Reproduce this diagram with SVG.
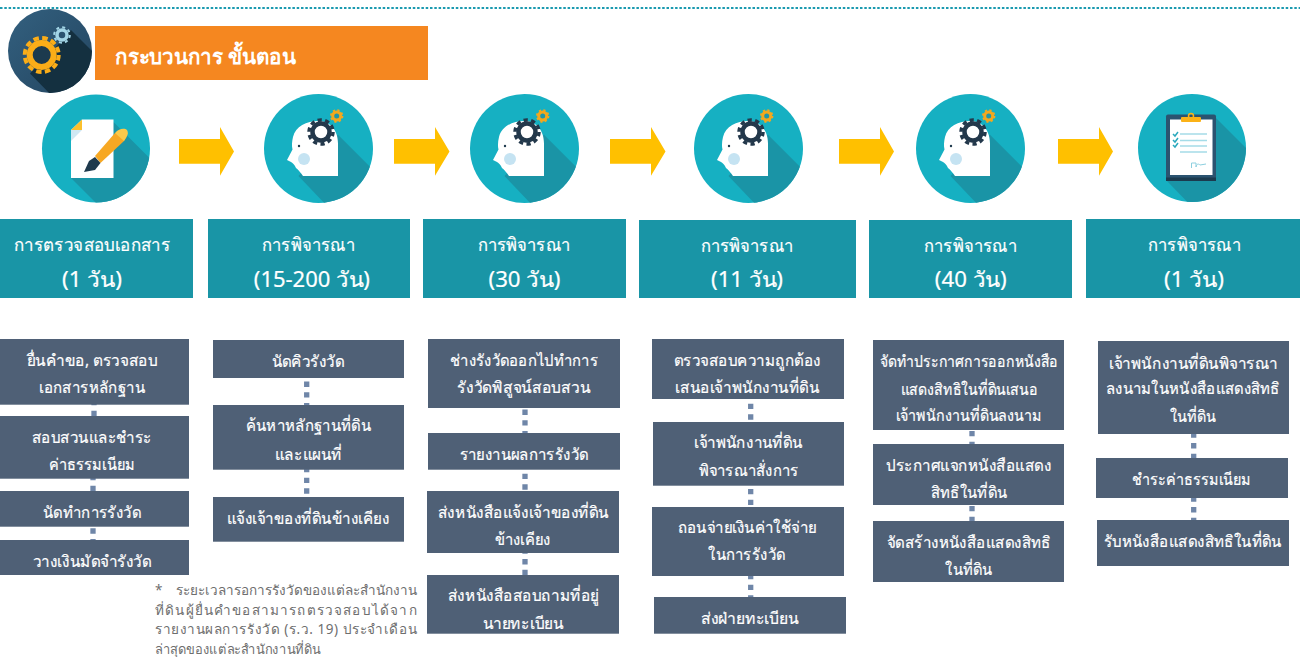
<svg xmlns="http://www.w3.org/2000/svg" xmlns:xlink="http://www.w3.org/1999/xlink" width="1300" height="657" viewBox="0 0 1300 657">
<style>
text{font-family:"Noto Sans","DejaVu Sans",sans-serif}
.hd{fill:#1995a6}
.bx{fill:#4f6076}
.t{fill:#fff;stroke:#fff;stroke-width:.2px;font-size:16px;text-anchor:middle}
.h1{fill:#fff;stroke:#fff;stroke-width:.2px;font-size:18px;text-anchor:middle}
.h2{fill:#fff;stroke:#fff;stroke-width:.2px;font-size:21px;text-anchor:middle}
.n{fill:#6e6e6e;font-size:13.500px}
.c{stroke:#6f86a8;stroke-width:5.300;stroke-dasharray:5.330 5.330;fill:none}
.ar{fill:#ffc000}
.disc{fill:#16b0c2}
.sh{fill:#1a94a6}
</style>
<defs>
<clipPath id="cc"><circle r="54.500"/></clipPath>
<clipPath id="c0"><circle cx="50" cy="51" r="42"/></clipPath>
<clipPath id="c1"><circle cx="96" cy="148.500" r="54"/></clipPath>
<clipPath id="c6"><circle cx="1192" cy="148" r="54"/></clipPath>
<linearGradient id="gd" x1="0" y1="0" x2="1" y2="1"><stop offset="0" stop-color="#33607f"/><stop offset="1" stop-color="#234560"/></linearGradient>
<g id="head">
<circle class="disc" r="54.500"/>
<path class="sh" clip-path="url(#cc)" d="M19.500,-13.800L70,36.700V80H30L-20,27.500Z"/>
<path fill="#fff" d="M-15.500,27.500C-18,24 -20,21.500 -22.500,19.500C-24,16 -25.500,15 -27.500,13.500L-31.500,11.500L-26,1C-27,-3 -26.500,-7 -25.500,-11.500C-23,-22 -12,-27.500 0,-27.500C10,-27.500 19.500,-20 19.500,-5V27.500Z"/>
<circle fill="#c5e3f2" cx="-14.500" cy="10.500" r="6"/>
<circle fill="#1f3a4d" cx="-19.500" cy="-2.500" r="1.200"/>
<circle cx="2.500" cy="-16.500" r="8.500" fill="#fff" stroke="#23384b" stroke-width="4.500"/>
<circle cx="2.500" cy="-16.500" r="12" fill="none" stroke="#23384b" stroke-width="3.500" stroke-dasharray="4.200 3.340"/>
<circle cx="18.200" cy="-32.500" r="4" fill="#1f97a9" stroke="#f4a81d" stroke-width="3"/>
<circle cx="18.200" cy="-32.500" r="5.800" fill="none" stroke="#f4a81d" stroke-width="1.800" stroke-dasharray="2.200 2.350"/>
</g>
</defs>

<line x1="0" y1="8" x2="1300" y2="8" stroke="#1b9ab0" stroke-width="2" stroke-dasharray="2.500 1.800"/>

<g id="title-icon">
<circle cx="50" cy="51" r="42" fill="url(#gd)"/>
<path clip-path="url(#c0)" fill="#143040" d="M71,30L100,59V100H56L30,73.500L55,48Z"/>
<circle cx="41.700" cy="55" r="12" fill="#1c3a4e" stroke="#fbad18" stroke-width="6"/>
<circle cx="41.700" cy="55" r="17" fill="none" stroke="#fbad18" stroke-width="4" stroke-dasharray="5.500 3.400"/>
<circle cx="62" cy="35" r="5" fill="#2b5370" stroke="#a3d5e6" stroke-width="3.500"/>
<circle cx="62" cy="35" r="7.800" fill="none" stroke="#a3d5e6" stroke-width="2" stroke-dasharray="3 3.120"/>
</g>
<g id="title">
<rect x="95" y="26" width="333" height="54" fill="#f58720"/>
<text x="115" y="64" fill="#fff" font-size="21" font-weight="700" textLength="181" lengthAdjust="spacingAndGlyphs">กระบวนการ ขั้นตอน</text>
</g>

<g id="icon-1">
<circle class="disc" cx="96" cy="148.500" r="54"/>
<path class="sh" clip-path="url(#c1)" d="M113.500,122L160,168.500V215H108L71,178Z"/>
<path fill="#fff" d="M82,119.500H113.500V178H71V130Z"/>
<path fill="#fbc02d" d="M82,119.500V130H71Z"/>
<path fill="#cfe8f3" d="M71,130H82L71,141Z"/>
<path fill="#f7a823" d="M95,156L115,133L127.700,133L124,141L100.500,163Z"/>
<path fill="#fbc94a" d="M115,133C119,128 125,128 127,130C129,133 127,137 124,141Z"/>
<path fill="#1f3a4d" d="M95,157L100.500,163L95,170L84,172L89,161Z"/>
</g>
<g id="icon-2"><use xlink:href="#head" href="#head" x="318.500" y="148.500"/></g>
<g id="icon-3"><use xlink:href="#head" href="#head" x="524.500" y="148.500"/></g>
<g id="icon-4"><use xlink:href="#head" href="#head" x="748.500" y="148.500"/></g>
<g id="icon-5"><use xlink:href="#head" href="#head" x="970.500" y="148.500"/></g>
<g id="icon-6">
<circle class="disc" cx="1192" cy="148" r="54"/>
<path class="sh" clip-path="url(#c6)" d="M1216,118L1260,162V215H1200L1166,180Z"/>
<rect x="1166" y="114.500" width="50" height="66.500" rx="2" fill="#2b5370"/>
<rect x="1166" y="177.500" width="50" height="3.500" fill="#1c3a4e"/>
<rect x="1170" y="119.500" width="42.500" height="55.500" fill="#fff"/>
<rect x="1181" y="117" width="20" height="5" rx="1" fill="#fbb217"/>
<circle cx="1191" cy="116" r="2.500" fill="none" stroke="#fbb217" stroke-width="1.500"/>
<path stroke="#a5dce8" stroke-width="1.500" fill="none" d="M1180,134H1207M1180,140.500H1207M1180,146H1207M1180,152H1207"/>
<path stroke="#2aa9bd" stroke-width="1.500" fill="none" d="M1173,134L1175,136L1178,132M1173,140L1175,142L1178,138M1173,145L1175,147L1178,143"/>
<path stroke="#8ccfdf" stroke-width="1" fill="none" d="M1191.500,168V163H1196V167C1197,163 1199,164 1200,165L1206,164"/>
</g>

<g id="connectors">
<path class="ar" d="M179,139H220V127L234,151.500L220,175.700V163.700H179Z"/>
<path class="ar" d="M394,139H435V127L449.500,151.500L435,175.700V163.700H394Z"/>
<path class="ar" d="M610,139H651V127L665.500,151.500L651,175.700V163.700H610Z"/>
<path class="ar" d="M839,139H880V127L894,151.500L880,175.700V163.700H839Z"/>
<path class="ar" d="M1058,139H1099V127L1113,151.500L1099,175.700V163.700H1058Z"/>
<path class="c" d="M94,400V416"/>
<path class="c" d="M93,475V491"/>
<path class="c" d="M93,528.300V545"/>
<path class="c" d="M306.700,381.600V405"/>
<path class="c" d="M306.700,467V497"/>
<path class="c" d="M525,409.600V433"/>
<path class="c" d="M525,473.700V491"/>
<path class="c" d="M525,548.400V575"/>
<path class="c" d="M750.700,403.700V422"/>
<path class="c" d="M750.700,489V507"/>
<path class="c" d="M750.700,574V597"/>
<path class="c" d="M972,431V444"/>
<path class="c" d="M972,506V521"/>
<path class="c" d="M1193.700,432.400V458"/>
<path class="c" d="M1193.700,496.400V520"/>
</g>

<g id="head-1"><rect class="hd" x="0" y="219" width="193" height="79"/><text class="h1" x="92" y="251" textLength="156" lengthAdjust="spacingAndGlyphs">การตรวจสอบเอกสาร</text><text class="h2" x="92" y="287" textLength="60" lengthAdjust="spacingAndGlyphs">(1 วัน)</text></g>
<g id="head-2"><rect class="hd" x="208" y="219" width="202" height="79"/><text class="h1" x="308.500" y="251" textLength="93" lengthAdjust="spacingAndGlyphs">การพิจารณา</text><text class="h2" x="311.800" y="287" textLength="116" lengthAdjust="spacingAndGlyphs">(15-200 วัน)</text></g>
<g id="head-3"><rect class="hd" x="423" y="219" width="203" height="79"/><text class="h1" x="524" y="251" textLength="93" lengthAdjust="spacingAndGlyphs">การพิจารณา</text><text class="h2" x="524.500" y="287" textLength="72" lengthAdjust="spacingAndGlyphs">(30 วัน)</text></g>
<g id="head-4"><rect class="hd" x="639" y="220" width="217" height="78"/><text class="h1" x="747" y="252" textLength="93" lengthAdjust="spacingAndGlyphs">การพิจารณา</text><text class="h2" x="747" y="287" textLength="72" lengthAdjust="spacingAndGlyphs">(11 วัน)</text></g>
<g id="head-5"><rect class="hd" x="869" y="220" width="203" height="78"/><text class="h1" x="970.600" y="252" textLength="93" lengthAdjust="spacingAndGlyphs">การพิจารณา</text><text class="h2" x="970.800" y="287" textLength="72" lengthAdjust="spacingAndGlyphs">(40 วัน)</text></g>
<g id="head-6"><rect class="hd" x="1086" y="219" width="214" height="79"/><text class="h1" x="1194.500" y="251" textLength="93" lengthAdjust="spacingAndGlyphs">การพิจารณา</text><text class="h2" x="1194" y="287" textLength="60" lengthAdjust="spacingAndGlyphs">(1 วัน)</text></g>

<g id="s1-1"><rect class="bx" x="0" y="339" width="189" height="65.700"/><text class="t" x="92" y="366" textLength="131" lengthAdjust="spacingAndGlyphs">ยื่นคำขอ, ตรวจสอบ</text><text class="t" x="92" y="393" textLength="106" lengthAdjust="spacingAndGlyphs">เอกสารหลักฐาน</text></g>
<g id="s1-2"><rect class="bx" x="0" y="416" width="189" height="62.700"/><text class="t" x="92" y="443" textLength="120" lengthAdjust="spacingAndGlyphs">สอบสวนและชำระ</text><text class="t" x="92" y="470" textLength="86" lengthAdjust="spacingAndGlyphs">ค่าธรรมเนียม</text></g>
<g id="s1-3"><rect class="bx" x="0" y="491" width="189" height="35.700"/><text class="t" x="92" y="518" textLength="98" lengthAdjust="spacingAndGlyphs">นัดทำการรังวัด</text></g>
<g id="s1-4"><rect class="bx" x="0" y="540" width="189" height="35"/><text class="t" x="92" y="567" textLength="119" lengthAdjust="spacingAndGlyphs">วางเงินมัดจำรังวัด</text></g>

<g id="s2-1"><rect class="bx" x="213" y="340" width="191" height="38"/><text class="t" x="308" y="367" textLength="73" lengthAdjust="spacingAndGlyphs">นัดคิวรังวัด</text></g>
<g id="s2-2"><rect class="bx" x="213" y="405" width="191" height="64.700"/><text class="t" x="308.300" y="431" textLength="125" lengthAdjust="spacingAndGlyphs">ค้นหาหลักฐานที่ดิน</text><text class="t" x="308.300" y="460" textLength="67" lengthAdjust="spacingAndGlyphs">และแผนที่</text></g>
<g id="s2-3"><rect class="bx" x="213" y="497" width="191" height="44.700"/><text class="t" x="308" y="524" textLength="163" lengthAdjust="spacingAndGlyphs">แจ้งเจ้าของที่ดินข้างเคียง</text></g>

<g id="s3-1"><rect class="bx" x="428" y="339" width="192" height="69"/><text class="t" x="524" y="366" textLength="148" lengthAdjust="spacingAndGlyphs">ช่างรังวัดออกไปทำการ</text><text class="t" x="523.700" y="393" textLength="133" lengthAdjust="spacingAndGlyphs">รังวัดพิสูจน์สอบสวน</text></g>
<g id="s3-2"><rect class="bx" x="428" y="433" width="192" height="36.700"/><text class="t" x="524" y="460" textLength="129" lengthAdjust="spacingAndGlyphs">รายงานผลการรังวัด</text></g>
<g id="s3-3"><rect class="bx" x="427" y="491" width="192" height="62"/><text class="t" x="523.300" y="518" textLength="171" lengthAdjust="spacingAndGlyphs">ส่งหนังสือแจ้งเจ้าของที่ดิน</text><text class="t" x="522.700" y="545" textLength="56" lengthAdjust="spacingAndGlyphs">ข้างเคียง</text></g>
<g id="s3-4"><rect class="bx" x="427" y="575" width="192" height="58.700"/><text class="t" x="523.300" y="601" textLength="151" lengthAdjust="spacingAndGlyphs">ส่งหนังสือสอบถามที่อยู่</text><text class="t" x="523" y="629" textLength="81" lengthAdjust="spacingAndGlyphs">นายทะเบียน</text></g>

<g id="s4-1"><rect class="bx" x="652" y="339" width="192" height="60"/><text class="t" x="747.300" y="366" textLength="147" lengthAdjust="spacingAndGlyphs">ตรวจสอบความถูกต้อง</text><text class="t" x="747.300" y="393" textLength="144" lengthAdjust="spacingAndGlyphs">เสนอเจ้าพนักงานที่ดิน</text></g>
<g id="s4-2"><rect class="bx" x="653" y="422" width="191" height="63.700"/><text class="t" x="748.300" y="448" textLength="109" lengthAdjust="spacingAndGlyphs">เจ้าพนักงานที่ดิน</text><text class="t" x="748.500" y="476" textLength="100" lengthAdjust="spacingAndGlyphs">พิจารณาสั่งการ</text></g>
<g id="s4-3"><rect class="bx" x="652" y="507" width="192" height="69"/><text class="t" x="747" y="533" textLength="139" lengthAdjust="spacingAndGlyphs">ถอนจ่ายเงินค่าใช้จ่าย</text><text class="t" x="746.700" y="560" textLength="77" lengthAdjust="spacingAndGlyphs">ในการรังวัด</text></g>
<g id="s4-4"><rect class="bx" x="654" y="597" width="192" height="36.700"/><text class="t" x="749.800" y="624" textLength="98" lengthAdjust="spacingAndGlyphs">ส่งฝ่ายทะเบียน</text></g>

<g id="s5-1"><rect class="bx" x="873" y="340" width="191" height="90"/><text class="t" x="969.200" y="367" textLength="178" lengthAdjust="spacingAndGlyphs">จัดทำประกาศการออกหนังสือ</text><text class="t" x="969.200" y="395" textLength="137" lengthAdjust="spacingAndGlyphs">แสดงสิทธิในที่ดินเสนอ</text><text class="t" x="969" y="421" textLength="146" lengthAdjust="spacingAndGlyphs">เจ้าพนักงานที่ดินลงนาม</text></g>
<g id="s5-2"><rect class="bx" x="873" y="444" width="191" height="61"/><text class="t" x="968.700" y="471" textLength="165" lengthAdjust="spacingAndGlyphs">ประกาศแจกหนังสือแสดง</text><text class="t" x="969" y="498" textLength="76" lengthAdjust="spacingAndGlyphs">สิทธิในที่ดิน</text></g>
<g id="s5-3"><rect class="bx" x="873" y="521" width="191" height="61"/><text class="t" x="968.800" y="548" textLength="164" lengthAdjust="spacingAndGlyphs">จัดสร้างหนังสือแสดงสิทธิ</text><text class="t" x="968.700" y="575" textLength="47" lengthAdjust="spacingAndGlyphs">ในที่ดิน</text></g>

<g id="s6-1"><rect class="bx" x="1098" y="341" width="191" height="93"/><text class="t" x="1193.500" y="369" textLength="169" lengthAdjust="spacingAndGlyphs">เจ้าพนักงานที่ดินพิจารณา</text><text class="t" x="1192.800" y="394" textLength="174" lengthAdjust="spacingAndGlyphs">ลงนามในหนังสือแสดงสิทธิ</text><text class="t" x="1193.200" y="422" textLength="46" lengthAdjust="spacingAndGlyphs">ในที่ดิน</text></g>
<g id="s6-2"><rect class="bx" x="1096" y="458" width="192" height="40"/><text class="t" x="1191.300" y="485" textLength="119" lengthAdjust="spacingAndGlyphs">ชำระค่าธรรมเนียม</text></g>
<g id="s6-3"><rect class="bx" x="1097" y="520" width="192" height="46"/><text class="t" x="1192.800" y="547" textLength="178" lengthAdjust="spacingAndGlyphs">รับหนังสือแสดงสิทธิในที่ดิน</text></g>

<g id="note">
<text class="n" x="155" y="595">*</text>
<text class="n" x="175.700" y="595" textLength="241">ระยะเวลารอการรังวัดของแต่ละสำนักงาน</text>
<text class="n" x="155" y="615" textLength="261.500">ที่ดินผู้ยื่นคำขอสามารถตรวจสอบได้จาก</text>
<text class="n" x="155" y="634" textLength="261.500">รายงานผลการรังวัด (ร.ว. 19) ประจำเดือน</text>
<text class="n" x="155" y="654" textLength="166" lengthAdjust="spacingAndGlyphs">ล่าสุดของแต่ละสำนักงานที่ดิน</text>
</g>
</svg>
